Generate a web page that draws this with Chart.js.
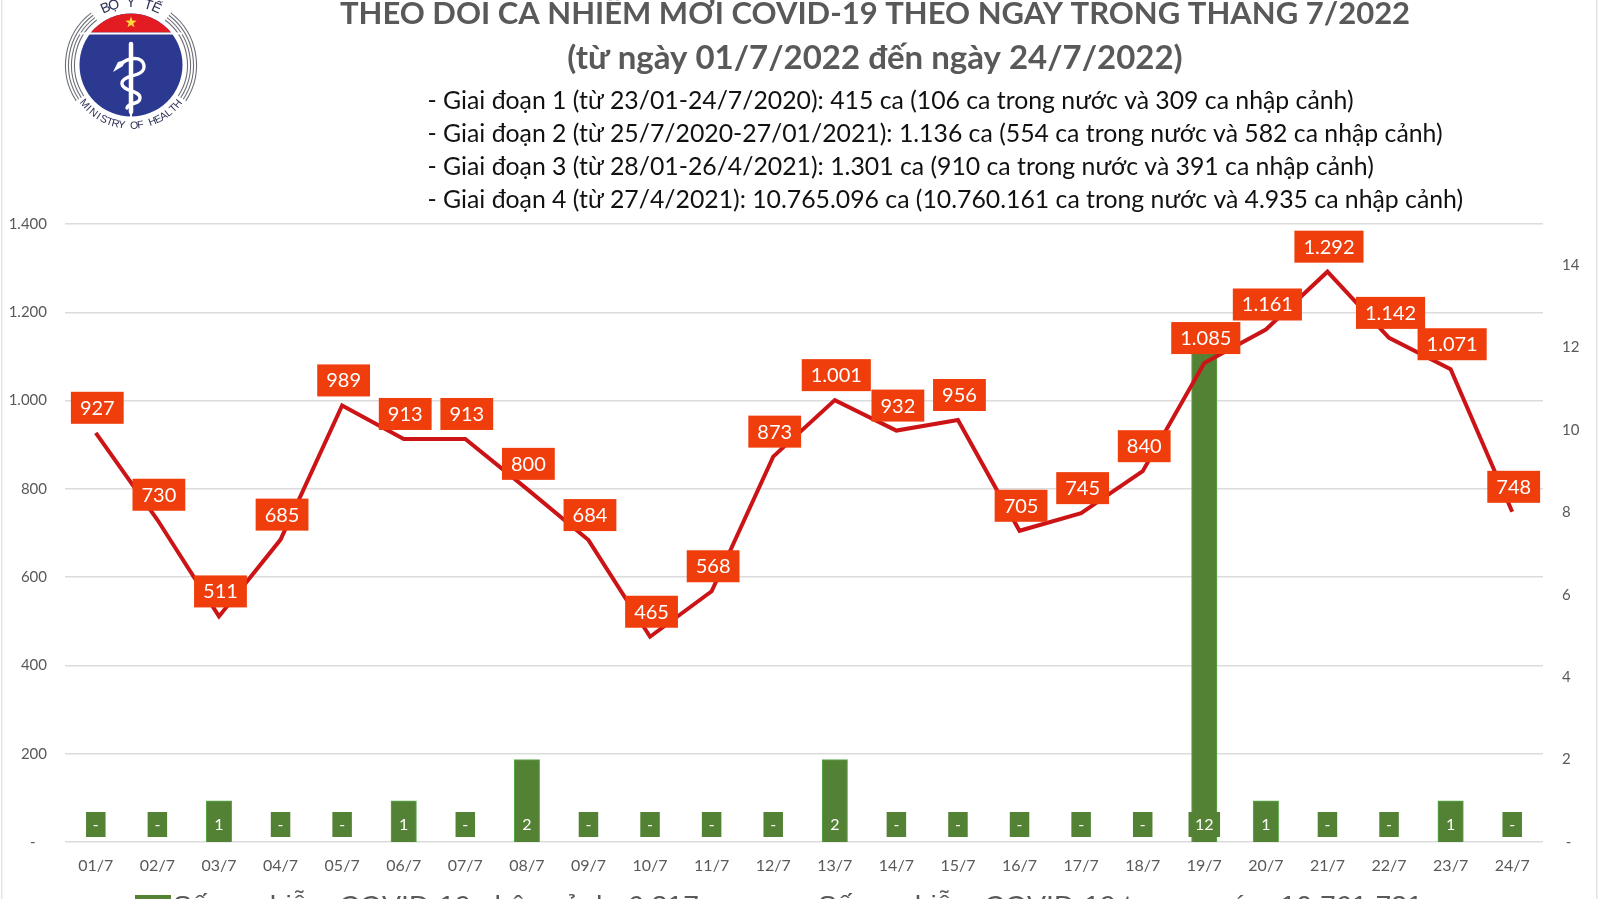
<!DOCTYPE html>
<html lang="vi">
<head>
<meta charset="utf-8">
<title>Theo dõi ca nhiễm mới COVID-19</title>
<style>
html,body{margin:0;padding:0;background:#fff;overflow:hidden}
canvas{display:block;position:absolute;left:0;top:0}
</style>
<script src="https://cdn.jsdelivr.net/npm/chart.js@4/dist/chart.umd.min.js"></script>
</head>
<body>
<canvas id="c" width="1600" height="899"></canvas>
<script>
const categories = ['01/7','02/7','03/7','04/7','05/7','06/7','07/7','08/7','09/7','10/7','11/7','12/7','13/7','14/7','15/7','16/7','17/7','18/7','19/7','20/7','21/7','22/7','23/7','24/7'];
const domesticCases = [927,730,511,685,989,913,913,800,684,465,568,873,1001,932,956,705,745,840,1085,1161,1292,1142,1071,748];
const importedCases = [0,0,1,0,0,1,0,2,0,0,0,0,2,0,0,0,0,0,12,1,0,0,1,0];
const titleLines = ['THEO DÕI CA NHIỄM MỚI COVID-19 THEO NGÀY TRONG THÁNG 7/2022','(từ ngày 01/7/2022 đến ngày 24/7/2022)'];
const phaseLines = [
  '- Giai đoạn 1 (từ 23/01-24/7/2020): 415 ca (106 ca trong nước và 309 ca nhập cảnh)',
  '- Giai đoạn 2 (từ 25/7/2020-27/01/2021): 1.136 ca (554 ca trong nước và 582 ca nhập cảnh)',
  '- Giai đoạn 3 (từ 28/01-26/4/2021): 1.301 ca (910 ca trong nước và 391 ca nhập cảnh)',
  '- Giai đoạn 4 (từ 27/4/2021): 10.765.096 ca (10.760.161 ca trong nước và 4.935 ca nhập cảnh)'
];
const legendImported = 'Số ca nhiễm COVID-19 nhập cảnh: 6.217 ca';
const legendDomestic = 'Số ca nhiễm COVID-19 trong nước: 10.761.731 ca';

const GREY = '#595959', GREEN = '#548235', RED = '#cc1417', ORANGE = '#ef3d0b';
const dot = v => String(v).replace(/\B(?=(\d{3})+(?!\d))/g, '.');

function drawLogo(ctx){
  const cx = 131, cy = 65, r = 51.5;
  ctx.save();
  // side arcs
  ctx.strokeStyle = '#6d6f78'; ctx.lineWidth = 1.1;
  [56.5,59.5,62.5,65.5].forEach(R => {
    ctx.beginPath(); ctx.arc(cx, cy, R, -0.92, 0.58, false); ctx.stroke();
    ctx.beginPath(); ctx.arc(cx, cy, R, Math.PI - 0.58, Math.PI + 0.92, false); ctx.stroke();
  });
  // blue disc
  ctx.fillStyle = '#2b3990';
  ctx.beginPath(); ctx.arc(cx, cy, r, 0, 7); ctx.fill();
  // red cap
  ctx.save();
  ctx.beginPath(); ctx.rect(cx - r, cy - r, 2 * r, 19); ctx.clip();
  ctx.fillStyle = '#e31b23';
  ctx.beginPath(); ctx.arc(cx, cy, r, 0, 7); ctx.fill();
  ctx.restore();
  ctx.fillStyle = '#fff'; ctx.fillRect(cx - r, 32.5, 2 * r, 2);
  // star
  ctx.fillStyle = '#ffd83a'; ctx.beginPath();
  for (let i = 0; i < 10; i++){
    const a = -Math.PI / 2 + i * Math.PI / 5, q = i % 2 ? 2.4 : 6;
    ctx.lineTo(cx + q * Math.cos(a), 22.5 + q * Math.sin(a));
  }
  ctx.fill();
  // rod of Asclepius
  ctx.strokeStyle = '#fff'; ctx.lineCap = 'round';
  ctx.lineWidth = 4.5; ctx.beginPath(); ctx.moveTo(cx, 44); ctx.lineTo(cx, 112); ctx.stroke();
  ctx.lineCap = 'butt'; ctx.lineWidth = 2; ctx.beginPath(); ctx.moveTo(cx, 112); ctx.lineTo(cx, 118); ctx.stroke();
  ctx.lineWidth = 3.4; ctx.lineCap = 'round'; ctx.beginPath();
  ctx.moveTo(119, 66);
  ctx.bezierCurveTo(128, 56, 143, 56, 144, 66);
  ctx.bezierCurveTo(145, 78, 121, 74, 122, 84);
  ctx.bezierCurveTo(123, 92, 140, 90, 140, 98);
  ctx.bezierCurveTo(140, 105, 128, 102, 127, 108);
  ctx.stroke();
  ctx.fillStyle = '#fff'; ctx.beginPath();
  ctx.moveTo(113, 72); ctx.lineTo(118, 62); ctx.lineTo(125, 60); ctx.lineTo(123, 66); ctx.fill();
  // curved lettering
  const arcText = (text, R, mid, step, bottom) => {
    ctx.fillStyle = '#2a2f55'; ctx.textAlign = 'center'; ctx.textBaseline = 'middle';
    [...text].forEach((ch, i) => {
      const a = mid + (i - (text.length - 1) / 2) * step * (bottom ? -1 : 1);
      ctx.save();
      ctx.translate(cx + R * Math.cos(a), cy + R * Math.sin(a));
      ctx.rotate(bottom ? a - Math.PI / 2 : a + Math.PI / 2);
      ctx.fillText(ch, 0, 0);
      ctx.restore();
    });
  };
  ctx.font = '14px "Liberation Sans"';
  arcText('BỘ Y TẾ', 62, -Math.PI / 2, 0.14, false);
  ctx.font = '10.5px "Liberation Sans"';
  arcText('MINISTRY OF HEALTH', 61, Math.PI / 2, 0.103, true);
  ctx.restore();
}

const decorations = {
  id: 'decorations',
  beforeDraw(chart){
    const ctx = chart.ctx;
    ctx.save();
    ctx.fillStyle = '#fff'; ctx.fillRect(0, 0, 1600, 899);
    ctx.fillStyle = '#e4e4e4'; ctx.fillRect(1, 0, 1.5, 899); ctx.fillRect(1596, 0, 1.5, 899);
    drawLogo(ctx);
    ctx.textBaseline = 'middle';
    ctx.textAlign = 'center'; ctx.fillStyle = GREY;
    ctx.font = '700 31px Lato, "Noto Sans", sans-serif';
    ctx.fillText(titleLines[0], 875, 14);
    ctx.font = '700 33px Lato, "Noto Sans", sans-serif';
    ctx.fillText(titleLines[1], 875, 58);
    ctx.textAlign = 'left'; ctx.fillStyle = '#111';
    ctx.font = '24.8px Lato, "Noto Sans", sans-serif';
    [101, 134, 167, 200].forEach((y, i) => ctx.fillText(phaseLines[i], 427.5, y));
    ctx.fillStyle = GREY;
    ctx.font = '28.5px "Liberation Sans", sans-serif';
    ctx.fillText(legendImported, 173, 907);
    ctx.fillText(legendDomestic, 818, 907);
    ctx.fillStyle = GREEN; ctx.fillRect(135, 895, 36, 6);
    ctx.restore();
  },
  afterDatasetsDraw(chart){
    const ctx = chart.ctx;
    ctx.save();
    ctx.textAlign = 'center'; ctx.textBaseline = 'middle';
    const y0 = chart.scales.y.getPixelForValue(0);
    ctx.font = '16px Lato, sans-serif';
    chart.getDatasetMeta(1).data.forEach((bar, i) => {
      const t = importedCases[i] ? String(importedCases[i]) : '-';
      const w = importedCases[i] ? ctx.measureText(t).width + 13 : 19.5;
      ctx.fillStyle = GREEN;
      ctx.fillRect(bar.x - w / 2, y0 - 30, w, 25);
      ctx.fillStyle = '#fff';
      ctx.fillText(t, bar.x, y0 - 17.5);
    });
    ctx.font = '20px Lato, sans-serif';
    chart.getDatasetMeta(0).data.forEach((pt, i) => {
      const t = dot(domesticCases[i]);
      const w = ctx.measureText(t).width + 18;
      const cx = pt.x + 1.5, cy = pt.y - 25;
      ctx.fillStyle = ORANGE;
      ctx.fillRect(cx - w / 2, cy - 16, w, 32);
      ctx.fillStyle = '#fff';
      ctx.fillText(t, cx, cy + 0.5);
    });
    ctx.restore();
  }
};

new Chart(document.getElementById('c'), {
  data: {
    labels: categories,
    datasets: [
      { type: 'line', label: legendDomestic, data: domesticCases, yAxisID: 'y', order: 1,
        borderColor: RED, borderWidth: 4, pointRadius: 0, tension: 0, borderJoinStyle: 'miter', fill: false },
      { type: 'bar', label: legendImported, data: importedCases, yAxisID: 'y1', order: 2,
        backgroundColor: GREEN, borderColor: '#5cab4c', borderWidth: 1, barThickness: 25.5 }
    ]
  },
  options: {
    responsive: false, animation: false,
    layout: { padding: { left: 0, right: 0, top: 224, bottom: 0 } },
    plugins: { legend: { display: false }, title: { display: false }, tooltip: { enabled: false } },
    scales: {
      x: {
        grid: { display: false }, border: { display: false },
        ticks: { color: GREY, font: { family: 'Lato', size: 16 }, padding: 6, maxRotation: 0, autoSkip: false },
        afterFit: s => { s.height = 57; }
      },
      y: {
        position: 'left', min: 0, max: 1400,
        grid: { color: '#dcdcdc', lineWidth: 1.5, drawTicks: false }, border: { display: false },
        ticks: { stepSize: 200, color: GREY, font: { family: 'Lato', size: 15 }, padding: 18,
          callback: v => v === 0 ? '-   ' : dot(v) },
        afterFit: s => { s.width = 65; }
      },
      y1: {
        position: 'right', min: 0, max: 15,
        grid: { display: false, drawTicks: false }, border: { display: false },
        ticks: { stepSize: 2, color: GREY, font: { family: 'Lato', size: 15 }, padding: 19,
          callback: v => v === 0 ? ' -' : String(v) },
        afterBuildTicks: s => { s.ticks = s.ticks.filter(t => t.value % 2 === 0); },
        afterFit: s => { s.width = 57; }
      }
    }
  },
  plugins: [decorations]
});
</script>
</body>
</html>
